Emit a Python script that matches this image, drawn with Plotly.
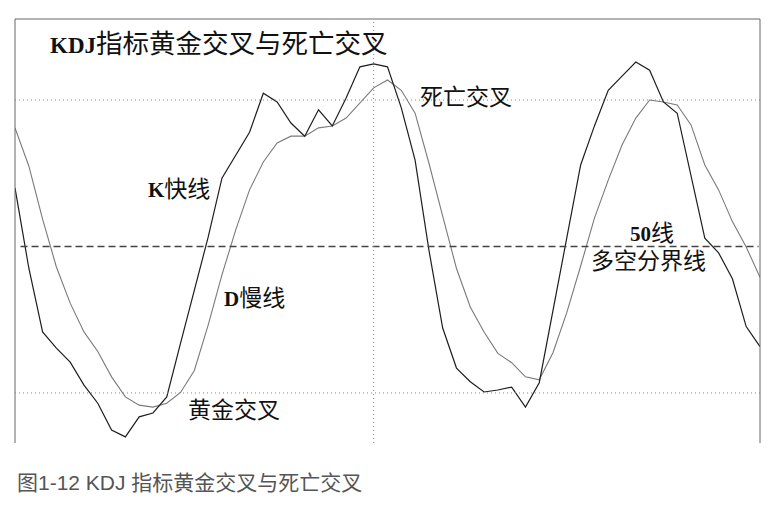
import plotly.graph_objects as go

# ---- data (x = trading day index, y = KDJ value) ----
days = list(range(55))
k_line = [62.0, 45.6, 32.5, 29.2, 26.3, 21.6, 17.9, 12.4, 11.0, 15.1,
          15.9, 19.2, 30.2, 41.1, 51.9, 64.0, 68.7, 73.4, 81.4, 79.6,
          75.3, 72.6, 78.0, 74.7, 80.4, 86.8, 87.4, 86.8, 78.4, 67.7,
          49.3, 33.3, 25.1, 22.3, 20.2, 20.6, 21.2, 17.1, 22.1, 36.9,
          52.4, 66.7, 74.7, 82.0, 84.9, 87.8, 86.1, 79.6, 77.3, 64.4,
          51.7, 48.7, 43.4, 33.6, 29.5]
d_line = [74.3, 66.5, 55.6, 45.8, 38.4, 32.5, 28.5, 23.3, 19.2, 17.5,
          17.1, 17.9, 20.1, 24.6, 33.9, 44.2, 53.4, 61.6, 67.3, 71.2,
          72.6, 72.6, 74.3, 74.7, 76.3, 79.4, 82.5, 84.1, 82.0, 77.3,
          67.1, 56.2, 45.5, 37.6, 32.5, 28.1, 26.2, 23.3, 22.7, 28.3,
          36.5, 46.0, 55.8, 63.6, 70.8, 76.3, 80.0, 79.6, 79.0, 74.9,
          66.7, 61.6, 55.1, 49.9, 43.7]
overbought = 80
midline = 50
oversold = 20
marker_day = 26

title_text = "KDJ指标黄金交叉与死亡交叉"
caption_text = "图1-12 KDJ 指标黄金交叉与死亡交叉"

CJK = "Noto Sans CJK SC"
SERIF_CJK = "Liberation Serif, Noto Sans CJK SC"

fig = go.Figure()
fig.add_trace(go.Scatter(x=days, y=d_line, mode="lines",
                         line=dict(color="#7a7a7a", width=1.1),
                         hoverinfo="skip", showlegend=False))
fig.add_trace(go.Scatter(x=days, y=k_line, mode="lines",
                         line=dict(color="#1e1e1e", width=1.2),
                         hoverinfo="skip", showlegend=False))

shapes = [
    # frame (no bottom edge)
    dict(type="line", xref="paper", yref="paper", x0=0, x1=1, y0=1, y1=1,
         line=dict(color="#666666", width=1)),
    dict(type="line", xref="paper", yref="paper", x0=0, x1=0, y0=0, y1=1,
         line=dict(color="#666666", width=1)),
    dict(type="line", xref="paper", yref="paper", x0=1, x1=1, y0=0, y1=1,
         line=dict(color="#666666", width=1)),
    # reference levels
    dict(type="line", xref="x", yref="y", x0=0, x1=54, y0=overbought, y1=overbought,
         line=dict(color="#888888", width=1, dash="1px,3px")),
    dict(type="line", xref="x", yref="y", x0=0, x1=54, y0=oversold, y1=oversold,
         line=dict(color="#888888", width=1, dash="1px,3px")),
    dict(type="line", xref="x", yref="y", x0=0.4, x1=53.9, y0=midline, y1=midline,
         line=dict(color="#444444", width=1.5, dash="7px,4px")),
    dict(type="line", xref="x", yref="paper", x0=marker_day, x1=marker_day, y0=0, y1=1,
         line=dict(color="#888888", width=1, dash="1px,3px")),
]

def note(text, x, y, size=23):
    return dict(text=text, x=x, y=y, xref="x", yref="y", xanchor="left",
                yanchor="middle", showarrow=False,
                font=dict(family=SERIF_CJK, size=size, color="#111111"))

annotations = [
    note('<b><span style="font-size:23px">KDJ</span></b>' + title_text[3:], 2.4, 91.5, size=26.5),
    note('<b><span style="font-size:21px">K</span></b>快线', 9.5, 61.6),
    note('<b><span style="font-size:21px">D</span></b>慢线', 15.0, 39.4),
    note("黄金交叉", 12.4, 16.5),
    note("死亡交叉", 29.2, 80.6),
    note('<b><span style="font-size:21px">50</span></b>线', 44.4, 52.7),
    note("多空分界线", 41.6, 47.0),
    dict(text=caption_text, x=0.0, y=-0.092, xref="paper", yref="paper",
         xanchor="left", yanchor="middle", showarrow=False,
         font=dict(family="Liberation Sans, " + CJK, size=21, color="#555555")),
]

fig.update_layout(
    width=768, height=505,
    margin=dict(l=15, r=8, t=19, b=62),
    paper_bgcolor="white", plot_bgcolor="white",
    xaxis=dict(range=[0, 54], visible=False, fixedrange=True),
    yaxis=dict(range=[9.75, 96.6], visible=False, fixedrange=True),
    shapes=shapes, annotations=annotations,
)

fig.write_html("out.html")
